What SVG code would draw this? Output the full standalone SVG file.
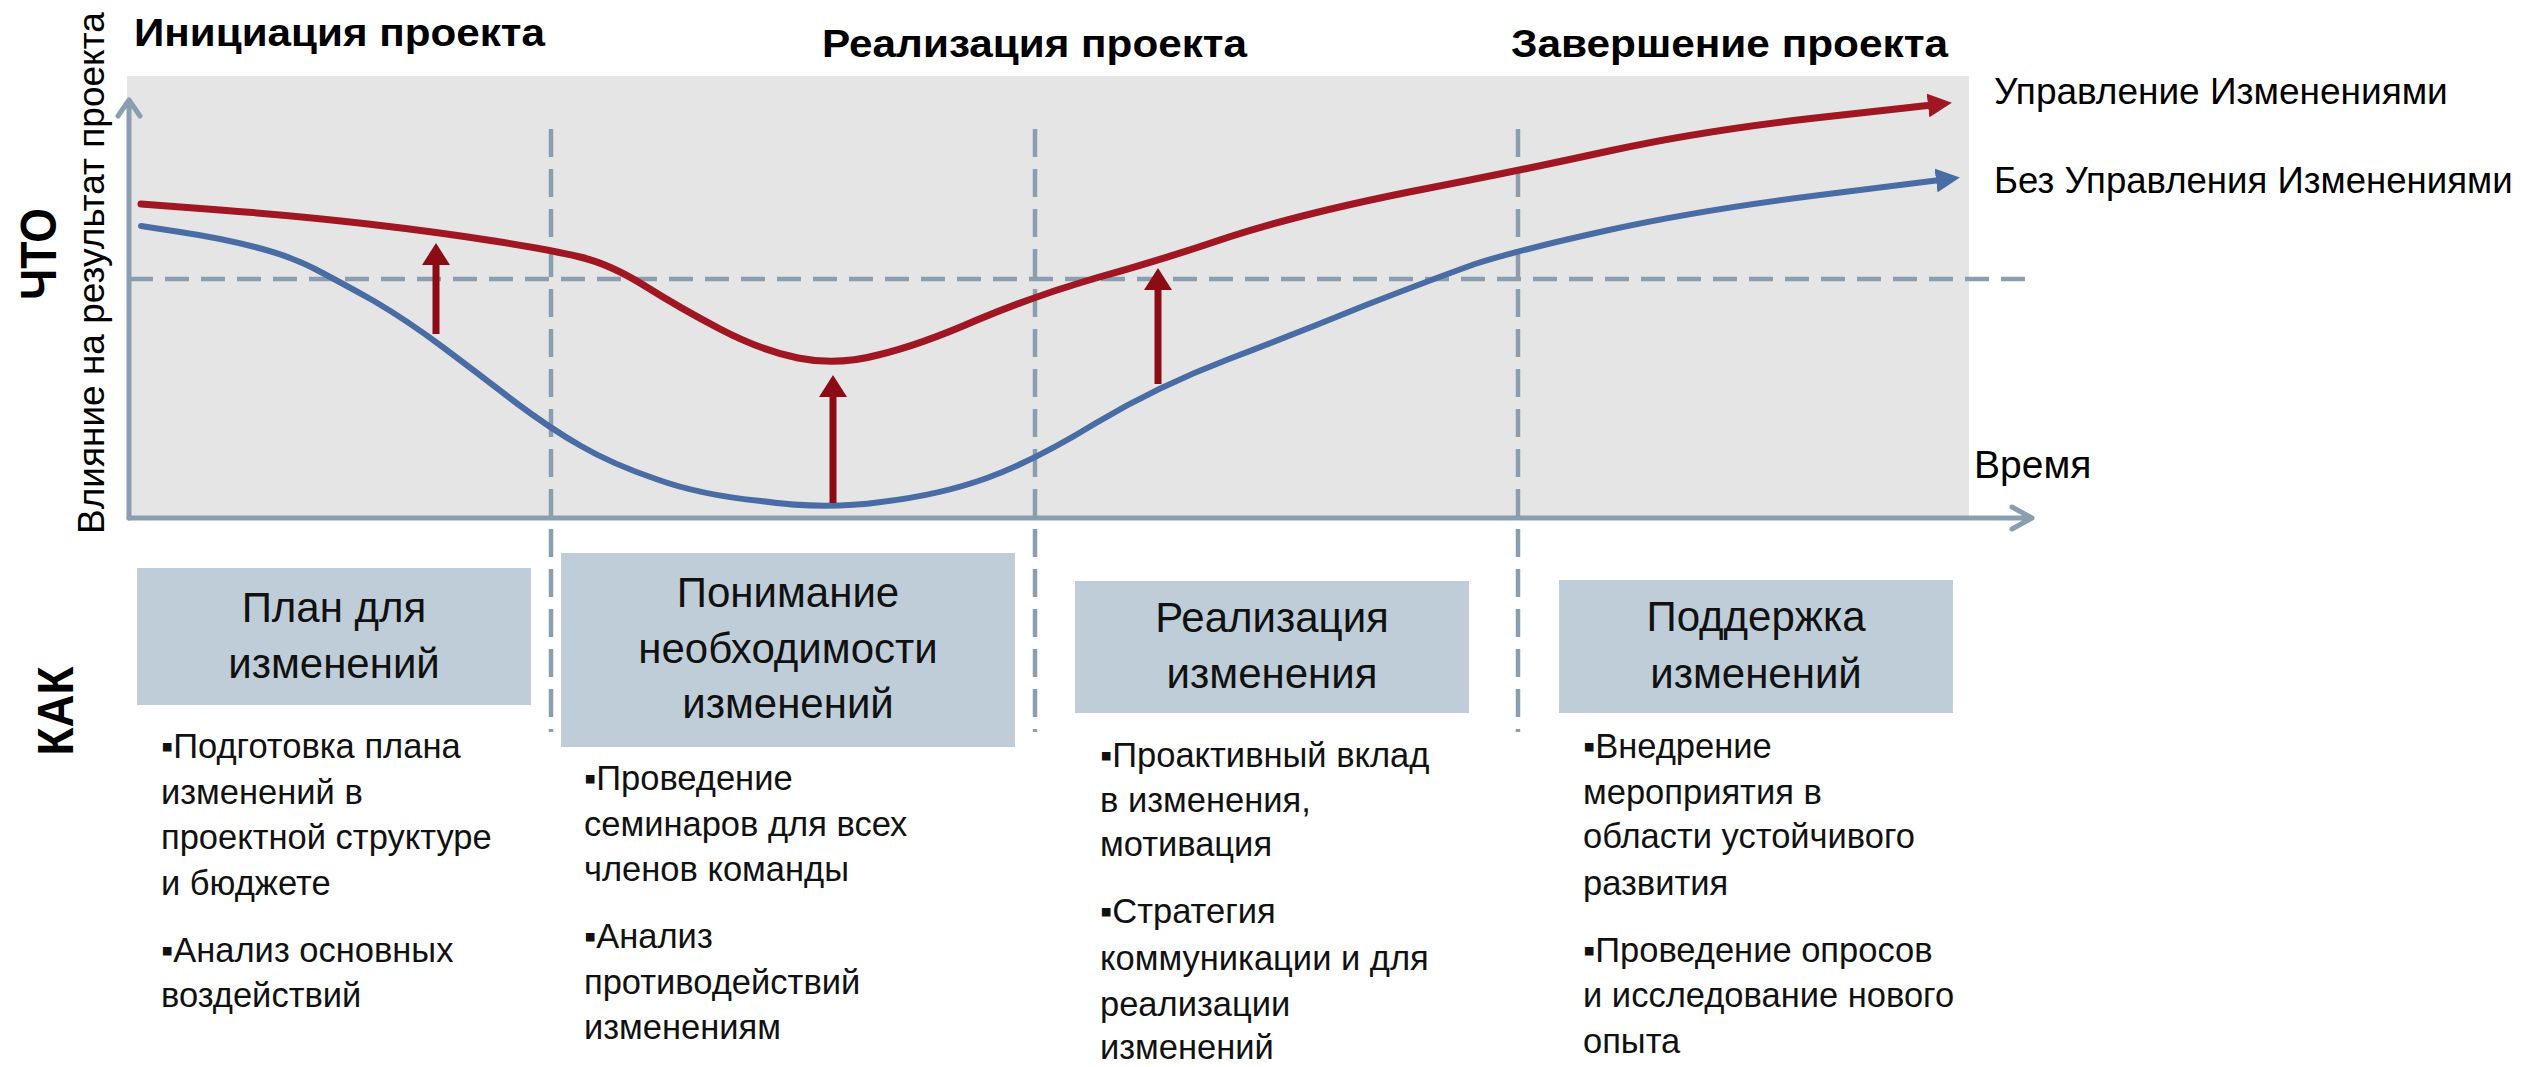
<svg xmlns="http://www.w3.org/2000/svg" width="2526" height="1067" viewBox="0 0 2526 1067">
<style>
.title{font-family:"Liberation Sans Narrow","Liberation Sans",Arial,sans-serif;font-weight:bold;font-size:39px;fill:#000}
.side{font-family:"Liberation Sans Narrow","Liberation Sans",Arial,sans-serif;font-weight:bold;font-size:50px;fill:#000}
.lbl{font-family:"Liberation Sans",Arial,sans-serif;font-size:37px;fill:#000}
.box{fill:#bfcdd9}
.boxt{font-family:"Liberation Sans",Arial,sans-serif;font-size:42px;fill:#111;text-anchor:middle}
.body{font-family:"Liberation Sans",Arial,sans-serif;font-size:34.5px;fill:#111}
.axis{stroke:#8b9eb0;stroke-width:5;fill:none;stroke-linecap:round;stroke-linejoin:round}
.dash{stroke:#8b9eb0;stroke-width:4.5;fill:none}
.red{stroke:#a01622;stroke-width:7;fill:none;stroke-linecap:round;stroke-linejoin:round}
.blue{stroke:#4a6ca4;stroke-width:6;fill:none;stroke-linecap:round;stroke-linejoin:round}
.up{stroke:#8c0c16;stroke-width:7;fill:none}
</style>
<defs>
<marker id="mRed" markerUnits="userSpaceOnUse" viewBox="0 0 24 24" markerWidth="24" markerHeight="24" refX="4" refY="12" orient="auto"><path d="M0,0 L24,12 L0,24 z" fill="#a01622"/></marker>
<marker id="mBlue" markerUnits="userSpaceOnUse" viewBox="0 0 24 24" markerWidth="24" markerHeight="24" refX="4" refY="12" orient="auto"><path d="M0,0 L24,12 L0,24 z" fill="#4a6ca4"/></marker>
<marker id="mUp" markerUnits="userSpaceOnUse" viewBox="0 0 22 28" markerWidth="22" markerHeight="28" refX="3" refY="14" orient="auto"><path d="M0,0 L22,14 L0,28 z" fill="#8c0c16"/></marker>
</defs>
<rect width="2526" height="1067" fill="#fff"/>
<g id="chart-bg"><rect x="127" y="76" width="1842" height="442" fill="#e5e5e5"/></g>
<g id="guides">
<line class="dash" x1="129" y1="279" x2="2032" y2="279" stroke-dasharray="24 12"/>
<line class="dash" x1="551" y1="129" x2="551" y2="732" stroke-dasharray="28 12"/>
<line class="dash" x1="1035" y1="129" x2="1035" y2="732" stroke-dasharray="28 12"/>
<line class="dash" x1="1518" y1="129" x2="1518" y2="732" stroke-dasharray="28 12"/>
</g>
<g id="axes">
<path class="axis" d="M129,518 L129,100 M118,116 L129,100 L140,116"/>
<path class="axis" d="M129,518 L2032,518 M2012,507 L2032,518 L2012,529"/>
</g>
<g id="connectors">
<path id="curve-with" class="red" marker-end="url(#mRed)" d="M141,204 L220,210 Q300,216 368,224 Q437,232 494,241 Q551,250 580,257 Q610,264 645,286 Q680,308 720,329 Q760,350 798,358 Q837,366 878,355 Q920,345 977,320 Q1034,296 1096,278 Q1158,261 1229,237 Q1300,214 1409,192 Q1518,171 1609,151 Q1700,131 1815,118 L1932,105"/>
<path id="curve-without" class="blue" marker-end="url(#mBlue)" d="M141,226 L180,232 Q220,238 255,247 Q290,256 315,269 Q340,282 374,301 Q408,321 444,348 Q480,375 515,402 Q551,429 581,446 Q612,464 656,479 Q700,495 761,501 Q823,510 881,502 Q940,495 987,478 Q1034,461 1096,423 Q1158,386 1229,359 Q1300,332 1366,305 Q1433,279 1475,264 Q1518,250 1609,230 Q1700,210 1820,195 L1940,180"/>
<line class="up" x1="436" y1="334" x2="436" y2="262" marker-end="url(#mUp)"/>
<line class="up" x1="833" y1="503" x2="833" y2="394" marker-end="url(#mUp)"/>
<line class="up" x1="1158" y1="384" x2="1158" y2="287" marker-end="url(#mUp)"/>
</g>
<g id="titles">
<text class="title" x="134" y="46" textLength="411" lengthAdjust="spacingAndGlyphs">Инициация проекта</text>
<text class="title" x="822" y="57" textLength="425" lengthAdjust="spacingAndGlyphs">Реализация проекта</text>
<text class="title" x="1511" y="57" textLength="437" lengthAdjust="spacingAndGlyphs">Завершение проекта</text>
</g>
<g id="side-labels">
<text class="side" transform="translate(56,254) rotate(-90)" text-anchor="middle" textLength="92" lengthAdjust="spacingAndGlyphs">ЧТО</text>
<text class="side" transform="translate(73,711) rotate(-90)" text-anchor="middle" textLength="89" lengthAdjust="spacingAndGlyphs">КАК</text>
<text class="lbl" transform="translate(104,534) rotate(-90)">Влияние на результат проекта</text>
</g>
<g id="legend">
<text class="lbl" x="1994" y="104">Управление Изменениями</text>
<text class="lbl" x="1994" y="193" style="font-size:36.6px">Без Управления Изменениями</text>
<text class="lbl" x="1974" y="478" style="font-size:39px">Время</text>
</g>
<g id="node-plan">
<rect class="box" x="137" y="568" width="394" height="137"/>
<text class="boxt" x="334" y="622">План для</text>
<text class="boxt" x="334" y="678">изменений</text>
<text class="body" x="161" y="758">▪Подготовка плана</text>
<text class="body" x="161" y="804">изменений в</text>
<text class="body" x="161" y="849">проектной структуре</text>
<text class="body" x="161" y="895">и бюджете</text>
<text class="body" x="161" y="962">▪Анализ основных</text>
<text class="body" x="161" y="1007">воздействий</text>
</g>
<g id="node-understand">
<rect class="box" x="561" y="553" width="454" height="194"/>
<text class="boxt" x="788" y="607">Понимание</text>
<text class="boxt" x="788" y="663">необходимости</text>
<text class="boxt" x="788" y="718">изменений</text>
<text class="body" x="584" y="790">▪Проведение</text>
<text class="body" x="584" y="836">семинаров для всех</text>
<text class="body" x="584" y="881">членов команды</text>
<text class="body" x="584" y="948">▪Анализ</text>
<text class="body" x="584" y="994">противодействий</text>
<text class="body" x="584" y="1039">изменениям</text>
</g>
<g id="node-implement">
<rect class="box" x="1075" y="581" width="394" height="132"/>
<text class="boxt" x="1272" y="632">Реализация</text>
<text class="boxt" x="1272" y="688">изменения</text>
<text class="body" x="1100" y="767">▪Проактивный вклад</text>
<text class="body" x="1100" y="812">в изменения,</text>
<text class="body" x="1100" y="856">мотивация</text>
<text class="body" x="1100" y="923">▪Стратегия</text>
<text class="body" x="1100" y="970">коммуникации и для</text>
<text class="body" x="1100" y="1016">реализации</text>
<text class="body" x="1100" y="1059">изменений</text>
</g>
<g id="node-support">
<rect class="box" x="1559" y="580" width="394" height="133"/>
<text class="boxt" x="1756" y="631">Поддержка</text>
<text class="boxt" x="1756" y="688">изменений</text>
<text class="body" x="1583" y="758">▪Внедрение</text>
<text class="body" x="1583" y="804">мероприятия в</text>
<text class="body" x="1583" y="848">области устойчивого</text>
<text class="body" x="1583" y="895">развития</text>
<text class="body" x="1583" y="962">▪Проведение опросов</text>
<text class="body" x="1583" y="1007">и исследование нового</text>
<text class="body" x="1583" y="1053">опыта</text>
</g>
</svg>
